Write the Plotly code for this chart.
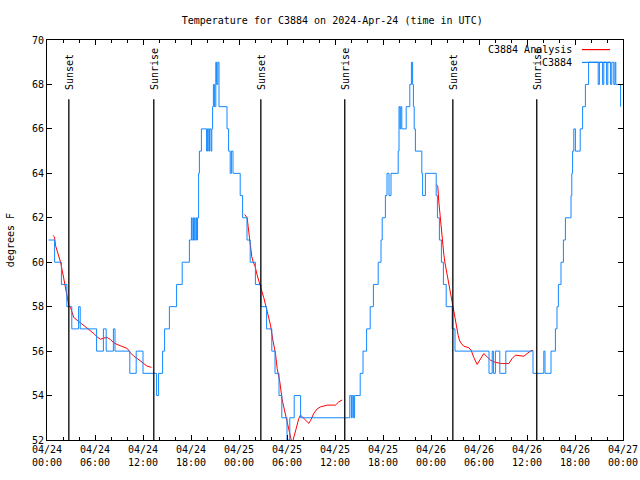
import pandas as pd
import plotly.graph_objects as go

START = pd.Timestamp("2024-04-24 00:00")
TITLE = "Temperature for C3884 on 2024-Apr-24 (time in UTC)"

# Observed station temperature (step changes): hours since 04/24 00:00 UTC, deg F
obs_hours = [0.2, 0.95, 1.8, 2.48, 3.1, 3.95, 4.15, 6.2, 7.05, 7.4, 8.3, 8.5, 10.35, 11.15, 12.0,
             13.7, 13.95, 14.45, 14.7, 15.3, 16.2, 16.9, 17.8, 18.05, 18.15, 18.32, 18.42, 18.6, 18.7,
             18.82, 18.95, 19.05, 19.3, 19.95, 20.05, 20.22, 20.32, 20.5, 20.6, 20.7, 20.8,
             20.95, 21.1, 21.2, 21.35, 21.5, 22.5, 22.7, 22.9, 23.05, 23.25, 23.35, 24.15,
             24.45, 25.0, 25.4, 26.05, 26.75, 27.45, 28.1, 28.5, 29.0, 29.35, 30.0, 30.35, 30.9, 31.7,
             37.85, 38.05, 38.15, 38.3, 38.45, 39.15, 39.5, 39.95, 40.4, 40.8, 41.4, 41.75, 41.9, 42.3,
             42.5, 42.75, 43.0, 43.9, 44.0, 44.12, 44.22, 44.35, 44.9, 45.35, 45.55, 45.7, 45.8, 45.9,
             46.05, 46.85, 46.95, 47.3, 48.65, 48.8, 49.05, 49.3, 49.55, 49.9, 50.65, 51.0, 55.25,
             55.65, 55.8, 56.05, 56.6, 57.35, 60.75, 62.1, 62.25, 63.0, 63.55, 63.75, 63.92, 64.25,
             64.55, 64.8, 65.4, 65.5, 65.6, 65.7, 65.85, 66.05, 66.65, 66.95, 67.3, 67.7, 68.9, 69.05,
             69.45, 69.6, 69.95, 70.1, 70.45, 70.6, 70.85, 71.0, 71.1, 71.7]
obs_temps = [61, 60, 59, 58, 57, 58, 57, 56, 57, 56, 57, 56, 55, 56, 55,
             54, 55, 56, 57, 58, 59, 60, 61, 62, 61, 62, 61, 62, 61,
             62, 64, 65, 66, 65, 66, 65, 66, 65, 66, 67, 68,
             67, 69, 68, 69, 67, 66, 65, 64, 65, 64, 64, 63,
             62, 61, 60, 59, 58, 57, 56, 55, 54, 53, 52, 53, 54, 53,
             54, 53, 54, 53, 54, 55, 56, 57, 58, 59, 60, 61, 62, 63,
             64, 63, 64, 65, 67, 66, 67, 66, 67, 68, 69, 68, 67, 66,
             65, 64, 63, 64, 63, 62, 61, 60, 59, 58, 57, 56, 55,
             56, 55, 56, 55, 56, 55, 56, 55, 56, 57, 58, 59, 60,
             61, 62, 62, 63, 64, 65, 66, 65, 66, 67, 68, 69, 68, 69,
             68, 69, 68, 69, 68, 69, 68, 69, 68, 67, 67]

# Analysis (three evening segments)
ana1_hours = [0.73, 0.94, 1.06, 1.27, 1.48, 1.69, 1.9, 2.1, 2.31, 2.52, 2.73, 2.94, 3.15, 3.35, 3.77,
              4.19, 4.6, 5.02, 5.44, 5.85, 6.27, 6.69, 7.1, 7.52, 7.94, 8.35, 8.77, 9.19, 9.6, 10.02,
              10.44, 10.85, 11.27, 11.69, 12.1, 12.52, 13.06]
ana1_temps = [61.21, 61.14, 60.76, 60.54, 60.24, 60.01, 59.64, 59.26, 58.81, 58.44, 58.06, 57.96, 57.72,
              57.51, 57.39, 57.27, 57.16, 57.06, 56.91, 56.79, 56.64, 56.53, 56.59, 56.61, 56.52, 56.37,
              56.3, 56.24, 56.19, 56.12, 55.92, 55.77, 55.67, 55.56, 55.47, 55.32, 55.27]
ana2_hours = [24.7, 24.85, 25.02, 25.15, 25.27, 25.44, 25.6, 25.77, 26.02, 26.27, 26.6, 26.85, 27.1,
              27.52, 27.94, 28.23, 28.56, 28.77, 29.1, 29.4, 29.81, 30.23, 30.56, 30.73, 31.06, 31.48,
              31.69, 32.1, 32.52, 32.73, 32.94, 33.35, 33.77, 34.19, 35.02, 36.06, 36.48, 36.9]
ana2_temps = [62.15, 62.1, 62.0, 61.59, 61.14, 60.69, 60.24, 60.02, 59.8, 59.42, 58.95, 58.7, 58.4,
              57.77, 57.17, 56.5, 55.9, 55.22, 54.62, 53.8, 53.12, 52.45, 51.95, 51.95, 52.45, 52.97,
              53.12, 52.97, 52.82, 52.75, 52.87, 53.2, 53.4, 53.49, 53.57, 53.57, 53.72, 53.8]
ana3_hours = [48.69, 48.85, 48.98, 49.1, 49.23, 49.35, 49.48, 49.6, 49.73, 49.85, 50.02, 50.19, 50.35,
              50.6, 50.8, 51.0, 51.2, 51.4, 51.55, 51.73, 52.1, 52.73, 53.02, 53.35, 53.77, 54.19,
              54.6, 55.02, 55.44, 56.06, 56.9, 57.73, 58.15, 58.56, 59.19, 59.6, 60.02, 60.44, 60.77]
ana3_temps = [63.5, 63.4, 62.71, 62.19, 61.66, 61.06, 60.69, 60.36, 60.01, 59.79, 59.4, 59.1, 58.8,
              58.3, 57.9, 57.5, 57.05, 56.7, 56.5, 56.37, 56.22, 56.15, 56.04, 55.71, 55.4, 55.67,
              55.89, 55.74, 55.59, 55.49, 55.44, 55.44, 55.67, 55.82, 55.77, 55.77, 55.89, 56.01, 56.04]

# Sun events
event_names = ["Sunset", "Sunrise", "Sunset", "Sunrise", "Sunset", "Sunrise"]
event_hours = [2.73, 13.35, 26.73, 37.22, 50.73, 61.22]
event_line_top = 67.33
event_label_base = 67.65

# Axis ticks
tick_hours = [0, 6, 12, 18, 24, 30, 36, 42, 48, 54, 60, 66, 72]
tick_labels = ["04/24<br>00:00", "04/24<br>06:00", "04/24<br>12:00", "04/24<br>18:00",
               "04/25<br>00:00", "04/25<br>06:00", "04/25<br>12:00", "04/25<br>18:00",
               "04/26<br>00:00", "04/26<br>06:00", "04/26<br>12:00", "04/26<br>18:00",
               "04/27<br>00:00"]
y_min, y_max, y_step = 52, 70, 2

BLUE = "#1287ff"
RED = "#ff0000"
FONT = "DejaVu Sans Mono"


def to_time(hours):
    return [START + pd.Timedelta(hours=h) if h is not None else None for h in hours]


ana_x, ana_y = [], []
for hs, ts in [(ana1_hours, ana1_temps), (ana2_hours, ana2_temps), (ana3_hours, ana3_temps)]:
    ana_x += hs + [None]
    ana_y += ts + [None]

fig = go.Figure()
fig.add_trace(go.Scatter(x=to_time(ana_x), y=ana_y, mode="lines", name="C3884 Analysis",
                         line=dict(color=RED, width=1), connectgaps=False, showlegend=False))
fig.add_trace(go.Scatter(x=to_time(obs_hours), y=obs_temps, mode="lines", name="C3884",
                         line=dict(color=BLUE, width=1, shape="hv"), showlegend=False))

for name, h in zip(event_names, event_hours):
    t = START + pd.Timedelta(hours=h)
    fig.add_trace(go.Scatter(x=[t, t], y=[y_min, event_line_top], mode="lines",
                             line=dict(color="black", width=1.3), showlegend=False,
                             hoverinfo="skip"))
    fig.add_annotation(x=t, y=event_label_base, text=name, textangle=-90, showarrow=False,
                       xanchor="center", yanchor="bottom", xref="x", yref="y",
                       font=dict(family=FONT, size=10, color="black"))

# legend drawn gnuplot-style (text left, sample line right)
legend_items = [("C3884 Analysis", RED, 0.976), ("C3884", BLUE, 0.944)]
for label, color, ypos in legend_items:
    fig.add_annotation(x=0.915, y=ypos, xref="paper", yref="paper", text=label,
                       showarrow=False, xanchor="right", yanchor="middle",
                       font=dict(family=FONT, size=10, color="black"))
    fig.add_shape(type="line", xref="paper", yref="paper", x0=0.9288, x1=0.9774,
                  y0=ypos, y1=ypos, line=dict(color=color, width=1.2))

fig.add_annotation(x=-0.064, y=0.5, xref="paper", yref="paper", text="degrees F",
                   textangle=-90, showarrow=False, xanchor="center", yanchor="middle",
                   font=dict(family=FONT, size=10, color="black"))

fig.update_layout(
    width=640, height=480,
    margin=dict(l=47, r=17, t=40, b=40, autoexpand=False),
    paper_bgcolor="white", plot_bgcolor="white",
    title=dict(text=TITLE, x=0.519, xref="container", y=0.958, yref="container",
               xanchor="center", yanchor="middle",
               font=dict(family=FONT, size=10, color="black")),
    font=dict(family=FONT, size=10, color="black"),
)
fig.update_xaxes(
    type="date", automargin=False,
    range=[START, START + pd.Timedelta(hours=72)],
    tickmode="array",
    tickvals=to_time(tick_hours),
    ticktext=tick_labels,
    ticks="inside", ticklen=5, tickcolor="black", tickwidth=1,
    minor=dict(tickmode="linear", tick0=START, dtick=2 * 3600 * 1000, ticks="inside",
               ticklen=3, tickcolor="black", tickwidth=1, showgrid=False),
    showline=True, linecolor="black", linewidth=1, mirror="allticks",
    showgrid=False, zeroline=False,
    tickfont=dict(family=FONT, size=10, color="black"),
)
fig.update_yaxes(
    automargin=False,
    range=[y_min, y_max], dtick=y_step, tick0=y_min,
    ticks="inside", ticklen=5, tickcolor="black", tickwidth=1,
    showline=True, linecolor="black", linewidth=1, mirror="allticks",
    showgrid=False, zeroline=False,
    tickfont=dict(family=FONT, size=10, color="black"),
)

fig.write_html(
    "out.html",
    config={"displayModeBar": False},
    post_script="document.body.style.margin='0px';document.body.style.overflow='hidden';",
)
